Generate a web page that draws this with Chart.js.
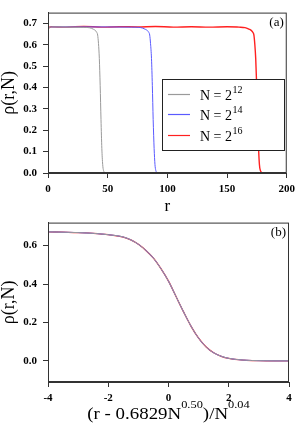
<!DOCTYPE html>
<html>
<head>
<meta charset="utf-8">
<script src="https://cdn.jsdelivr.net/npm/chart.js@4"></script>
<style>
  html, body { margin: 0; padding: 0; background: #fff; }
  #wrap { position: relative; width: 300px; height: 433px; }
  canvas { position: absolute; left: 0; }
</style>
</head>
<body>
<div id="wrap">
  <canvas id="top" width="300" height="218" style="top:0"></canvas>
  <canvas id="bottom" width="300" height="223" style="top:210px"></canvas>
</div>
<script>
// (a) density profiles rho(r,N)
const r12   = [0, 1, 3, 10, 20, 30, 35, 38.1, 39.5, 40.9, 41.6, 42.3, 43.0, 43.7, 44.4, 45.1, 45.8, 46.5, 47.2, 47.9];
const rho12 = [0.670, 0.680, 0.683, 0.683, 0.682, 0.681, 0.679, 0.672, 0.667, 0.657, 0.645, 0.605, 0.535, 0.41, 0.25, 0.115, 0.04, 0.012, 0.004, 0.0];
const r14   = [0, 1, 3, 20, 50, 70, 76, 79, 81.5, 83.0, 84.5, 85.2, 85.9, 86.7, 87.4, 88.1, 88.9, 89.6, 90.3, 91.0, 91.8];
const rho14 = [0.671, 0.680, 0.683, 0.683, 0.683, 0.682, 0.681, 0.678, 0.672, 0.667, 0.657, 0.645, 0.605, 0.535, 0.41, 0.25, 0.115, 0.04, 0.012, 0.004, 0.0];
const r16   = [0, 1, 3, 15, 30, 45, 60, 75, 90, 105, 120, 135, 150, 160, 165, 168.6, 170.2, 171.7, 172.5, 173.2, 174.0, 174.8, 175.6, 176.4, 177.1, 177.9, 178.7, 179.5];
const rho16 = [0.672, 0.681, 0.684, 0.682, 0.685, 0.682, 0.684, 0.683, 0.685, 0.682, 0.684, 0.682, 0.684, 0.682, 0.680, 0.672, 0.667, 0.657, 0.645, 0.605, 0.535, 0.41, 0.25, 0.115, 0.04, 0.012, 0.004, 0.0];

// (b) scaled collapse
const scaledX  = [-4, -3.5, -3, -2.5, -2, -1.5, -1.25, -1, -0.75, -0.5, -0.25, 0, 0.25, 0.5, 0.75, 1, 1.25, 1.5, 1.75, 2, 2.5, 3, 3.5, 4];
const scaled12 = [0.672, 0.670, 0.668, 0.664, 0.657, 0.645, 0.630, 0.607, 0.575, 0.535, 0.480, 0.415, 0.335, 0.255, 0.180, 0.118, 0.072, 0.042, 0.024, 0.013, 0.004, 0.001, 0.0, 0.0];
const scaled14 = [0.672, 0.670, 0.668, 0.664, 0.657, 0.645, 0.630, 0.607, 0.575, 0.535, 0.480, 0.415, 0.335, 0.255, 0.180, 0.118, 0.072, 0.042, 0.024, 0.013, 0.004, 0.001, 0.0, 0.0];
const scaled16 = [0.672, 0.670, 0.668, 0.664, 0.657, 0.645, 0.630, 0.607, 0.575, 0.535, 0.480, 0.415, 0.335, 0.255, 0.180, 0.118, 0.072, 0.042, 0.024, 0.013, 0.004, 0.001, 0.0, 0.0];

const exponents = ['12', '14', '16'];
const colors    = ['#9a9a9a', '#5a5aff', '#ff2020'];
const topXTicks = [0, 50, 100, 150, 200];

const serif = "'Liberation Serif', 'Times New Roman', serif";
const axisColor = '#333';

const pts = (xs, ys) => xs.map((x, i) => ({ x, y: ys[i] }));

const frame = {
  id: 'frame',
  afterDatasetsDraw(chart, args, opts) {
    const { ctx, chartArea: a } = chart;
    ctx.save();
    ctx.strokeStyle = axisColor;
    ctx.lineWidth = 1;
    ctx.strokeRect(a.left + 0.5, a.top + 0.5, a.width - 1, a.height - 1);
    ctx.fillStyle = '#000';
    ctx.font = '13px ' + serif;
    ctx.textAlign = 'right';
    ctx.textBaseline = 'top';
    ctx.fillText(opts.tag, a.right - 3, a.top + 3);
    ctx.restore();
  }
};

// legend with superscript exponents
const supLegend = {
  id: 'supLegend',
  afterDraw(chart) {
    const ctx = chart.ctx;
    const x0 = 162, y0 = 79, w = 122, h = 71;
    ctx.save();
    ctx.fillStyle = '#fff';
    ctx.fillRect(x0, y0, w, h);
    ctx.strokeStyle = '#222';
    ctx.lineWidth = 1;
    ctx.strokeRect(x0 + 0.5, y0 + 0.5, w, h);
    const rows = [94.5, 114.5, 135.5];
    exponents.forEach((e, i) => {
      const y = rows[i];
      ctx.lineWidth = 1.2;
      ctx.strokeStyle = colors[i];
      ctx.beginPath();
      ctx.moveTo(168, y);
      ctx.lineTo(190, y);
      ctx.stroke();
      ctx.fillStyle = '#000';
      ctx.textBaseline = 'alphabetic';
      ctx.textAlign = 'left';
      ctx.font = '14px ' + serif;
      const base = 'N = 2';
      ctx.fillText(base, 200, y + 5);
      const bw = ctx.measureText(base).width;
      ctx.font = '10px ' + serif;
      ctx.fillText(e, 200 + bw + 0.5, y - 1.5);
    });
    ctx.restore();
  }
};

// x title of (b), with superscripts, slightly widened like the original
const supTitle = {
  id: 'supTitle',
  afterDraw(chart) {
    const ctx = chart.ctx;
    const parts = [['(r - 0.6829N', 16, 0], ['0.50', 10.5, -11], [')/N', 16, 0], ['0.04', 10.5, -11]];
    ctx.save();
    ctx.fillStyle = '#000';
    ctx.textBaseline = 'alphabetic';
    ctx.textAlign = 'left';
    let total = 0;
    parts.forEach(([t, s]) => { ctx.font = s + 'px ' + serif; total += ctx.measureText(t).width; });
    ctx.translate(168.5, 209);
    ctx.scale(1.18, 1);
    let x = -total / 2;
    parts.forEach(([t, s, dy]) => {
      ctx.font = s + 'px ' + serif;
      ctx.fillText(t, x, dy);
      x += ctx.measureText(t).width;
    });
    ctx.restore();
  }
};

function lineSet(data, i, width) {
  return {
    data,
    borderColor: colors[i],
    borderWidth: width,
    pointRadius: 0,
    tension: 0.3,
    cubicInterpolationMode: 'monotone',
    fill: false,
  };
}

function axis(extra) {
  return {
    type: 'linear',
    border: { color: axisColor, width: 1 },
    grid: { drawOnChartArea: false, drawTicks: true, tickLength: 5, color: axisColor },
    ...extra,
  };
}

const tickFont  = { family: serif, size: 11, weight: 'bold' };
const yTitleFont = { family: serif, size: 18, lineHeight: 1 };

Chart.defaults.color = '#000';
Chart.defaults.animation = false;

new Chart(document.getElementById('top'), {
  type: 'line',
  data: {
    datasets: [
      lineSet(pts(r12, rho12), 0, 1),
      lineSet(pts(r14, rho14), 1, 1),
      lineSet(pts(r16, rho16), 2, 1.4),
    ],
  },
  options: {
    responsive: false,
    layout: { padding: { top: 2, right: 11, left: 0, bottom: 0 } },
    plugins: { legend: { display: false }, tooltip: { enabled: false }, frame: { tag: '(a)' } },
    scales: {
      x: axis({
        min: 0, max: 200,
        afterBuildTicks: s => { s.ticks = topXTicks.map(v => ({ value: v })); },
        afterFit: s => { s.height = 45; },
        ticks: { font: tickFont, padding: 5, maxRotation: 0 },
        title: { display: true, text: 'r', font: { family: serif, size: 17, lineHeight: 1 },
                 padding: { top: 0, bottom: 3 } },
      }),
      y: axis({
        min: 0, max: 0.75,
        afterFit: s => { s.width = 48; },
        ticks: { font: tickFont, stepSize: 0.1, includeBounds: false, padding: 6,
                 callback: v => v.toFixed(1) },
        title: { display: true, text: 'ρ(r,N)', font: yTitleFont, padding: { top: 0, bottom: 0 } },
      }),
    },
  },
  plugins: [frame, supLegend],
});

new Chart(document.getElementById('bottom'), {
  type: 'line',
  data: {
    datasets: [
      lineSet(pts(scaledX, scaled12), 0, 1),
      lineSet(pts(scaledX, scaled14), 1, 1),
      lineSet(pts(scaledX, scaled16), 2, 1.3),
    ],
  },
  options: {
    responsive: false,
    layout: { padding: { top: 2, right: 11, left: 0, bottom: 0 } },
    plugins: { legend: { display: false }, tooltip: { enabled: false }, frame: { tag: '(b)' } },
    scales: {
      x: axis({
        min: -4, max: 4,
        afterFit: s => { s.height = 51; },
        ticks: { font: tickFont, stepSize: 2, padding: 5, maxRotation: 0 },
      }),
      y: axis({
        min: -0.11, max: 0.72,
        afterFit: s => { s.width = 48; },
        ticks: { font: tickFont, stepSize: 0.2, includeBounds: false, padding: 6,
                 callback: v => v.toFixed(1) },
        title: { display: true, text: 'ρ(r,N)', font: yTitleFont, padding: { top: 0, bottom: 0 } },
      }),
    },
  },
  plugins: [frame, supTitle],
});
</script>
</body>
</html>
